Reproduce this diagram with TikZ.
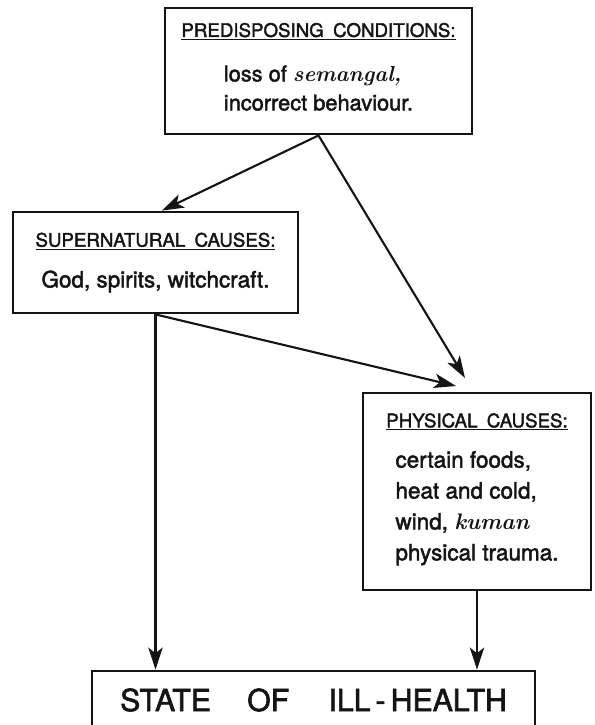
\documentclass[tikz,border=0pt]{standalone}
\usepackage{fontspec}
\setsansfont{TeX Gyre Heros}[FakeBold=2]
\usepackage{xcolor}
\definecolor{inkBlack}{HTML}{141414}
\usepackage{tikz}
\usetikzlibrary{
    arrows.meta,
    positioning,
    calc
}
% Underlined heading of a cause box
\newcommand{\causehead}[1]{{\fontsize{13.3}{15}\selectfont\underline{#1}}}
\newcommand{\malayword}[1]{{\rmfamily\itshape\bfseries #1}}
\newcommand{\wordgap}{\hspace{0.5em}}
\tikzset{
    % Base style for the boxes
    cause box/.style={
        draw=inkBlack,
        line width=2pt,
        rectangle,
        inner sep=0pt,
        text=inkBlack,
        align=center,
    },
    % Outcome box at the foot
    outcome box/.style={
        cause box,
        font=\sffamily\fontsize{21.5}{24}\selectfont,
    },
    % Arrow style - long filled head
    arrow/.style={
        -{Stealth[length=5.5mm, width=3.6mm, inset=1.4mm]},
        line width=1.5pt,
        draw=inkBlack,
    },
}

\begin{document}
\begin{tikzpicture}[x=0.025cm, y=-0.025cm]
    \useasboundingbox (0,0) rectangle (594,725);

    \node (pre) [cause box, minimum width=7.675cm, minimum height=3.15cm,
        font=\sffamily\fontsize{15.5}{20.6}\selectfont] at (318.5,71)
        {\causehead{PREDISPOSING\wordgap CONDITIONS:}\\[14pt]
         \begin{tabular}{@{}l@{}}
             loss of \malayword{semangal,}\\
             incorrect behaviour.
         \end{tabular}};
    \node (super) [cause box, minimum width=7.125cm, minimum height=2.525cm,
        font=\sffamily\fontsize{16}{20}\selectfont] at (155.5,262.5)
        {\causehead{SUPERNATURAL\wordgap CAUSES:}\\[9pt]
         God, spirits, witchcraft.};
    \node (phys) [cause box, minimum width=5.7cm, minimum height=4.925cm,
        font=\sffamily\fontsize{16}{22}\selectfont] at (477,491.5)
        {\causehead{PHYSICAL\wordgap CAUSES:}\\[10pt]
         \begin{tabular}{@{}l@{}}
             certain foods,\\
             heat and cold,\\
             wind, \malayword{kuman}\\
             physical trauma.
         \end{tabular}};
    \node (state) [outcome box, minimum width=11.075cm, minimum height=1.45cm] at (313.5,700)
        {STATE\hspace{1.2em}OF\hspace{1.3em}ILL\,-\,HEALTH};

    % free ends of the arrows into the physical box
    \coordinate (physin1) at (465,378);
    \coordinate (physin2) at (456,386);

    \draw [arrow] (pre.south) -- ([xshift=0.16cm]super.north);
    \draw [arrow] (pre.south) -- (physin1);
    \draw [arrow] (super.south) -- (physin2);
    \draw [arrow] (super.south) -- (super.south |- state.north);
    \draw [arrow] (phys.south) -- (phys.south |- state.north);
\end{tikzpicture}
\end{document}
